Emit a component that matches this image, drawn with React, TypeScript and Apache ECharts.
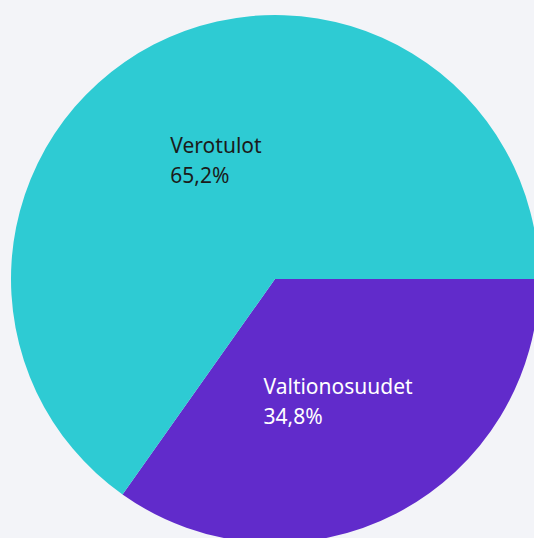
import React, { useEffect, useRef } from "react";
import * as echarts from "echarts";

const categories = ["Valtionosuudet", "Verotulot"];
const values = [34.8, 65.2];
const colors = ["#612BCB", "#2ECBD3"];
const labelColors = ["#FFFFFF", "#1B1B1B"];
const labelOffsets: [number, number][] = [[1, 2], [3, 1]];

export default function App() {
  const ref = useRef<HTMLDivElement>(null);
  useEffect(() => {
    if (!ref.current) return;
    const chart = echarts.init(ref.current, null, { renderer: "svg" });
    chart.setOption({
      animation: false,
      backgroundColor: "#F3F4F8",
      series: [
        {
          type: "pie",
          center: [275, 279],
          radius: 264,
          startAngle: 0,
          clockwise: true,
          silent: true,
          data: categories.map((name, i) => ({
            name,
            value: values[i],
            itemStyle: { color: colors[i] },
            label: {
              color: labelColors[i],
              offset: labelOffsets[i],
              rich: {
                a: {
                  align: "left",
                  color: labelColors[i],
                  fontFamily: "Noto Sans",
                  fontSize: 21,
                  lineHeight: 30,
                },
              },
            },
          })),
          label: {
            show: true,
            position: "inside",
            fontFamily: "Noto Sans",
            fontSize: 21,
            lineHeight: 30,
            formatter: (p: any) =>
              "{a|" + p.name + "}\n{a|" + p.value.toFixed(1).replace(".", ",") + "%}",
          },
          labelLine: { show: false },
        },
      ],
    });
    return () => chart.dispose();
  }, []);
  return (
    <div
      ref={ref}
      style={{ position: "fixed", left: 0, top: 0, width: 534, height: 538 }}
    />
  );
}
